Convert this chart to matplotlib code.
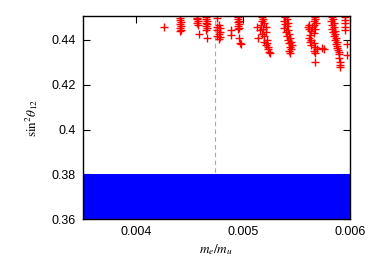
import matplotlib
matplotlib.use('Agg')
import matplotlib.pyplot as plt

plt.rcParams['font.family'] = 'Liberation Sans'
plt.rcParams['mathtext.fontset'] = 'stix'

# scan points (m_e/m_u, sin^2 theta_12)
me_mu = [
    0.00426,
    0.00441, 0.00441, 0.00442, 0.00441, 0.00442, 0.00441, 0.00442, 0.00441,
    0.00457, 0.00457, 0.00458, 0.00457, 0.00458, 0.00459,
    0.00465, 0.00465, 0.00466, 0.00465, 0.00466, 0.00465, 0.00466, 0.00465, 0.00466,
    0.00476, 0.00477, 0.00476, 0.00478, 0.00476, 0.00478, 0.00477, 0.00476, 0.00478, 0.00477,
    0.00489, 0.00489,
    0.00495, 0.00495, 0.00496, 0.00495, 0.00496, 0.00495, 0.00496, 0.00495, 0.00496, 0.00497, 0.00498,
    0.00518, 0.00519, 0.00518, 0.00520, 0.00517, 0.00521, 0.00513, 0.00519, 0.00516, 0.00521,
    0.00518, 0.00514, 0.00520, 0.00522, 0.00520, 0.00522, 0.00521, 0.00523, 0.00523, 0.00524, 0.00525,
    0.00539, 0.00541, 0.00538, 0.00542, 0.00539, 0.00541, 0.00538, 0.00542, 0.00540, 0.00543,
    0.00541, 0.00544, 0.00542, 0.00545, 0.00543, 0.00546, 0.00544, 0.00545, 0.00543, 0.00544,
    0.00567, 0.00567, 0.00566, 0.00568, 0.00566, 0.00562, 0.00561, 0.00565, 0.00562, 0.00567,
    0.00564, 0.00566, 0.00563, 0.00562, 0.00564, 0.00563, 0.00566, 0.00564, 0.00567, 0.00569,
    0.00566, 0.00567, 0.00567, 0.00574, 0.00576,
    0.00583, 0.00584, 0.00582, 0.00585, 0.00583, 0.00585, 0.00583, 0.00586, 0.00584, 0.00586,
    0.00585, 0.00587, 0.00586, 0.00588, 0.00587, 0.00588, 0.00588, 0.00589, 0.00590, 0.00590,
    0.00590, 0.00591, 0.00591, 0.00591,
    0.00595, 0.00595, 0.00595, 0.00595, 0.00595, 0.00597, 0.00597,
]
sin2_t12 = [
    0.4459,
    0.4500, 0.4490, 0.4481, 0.4472, 0.4463, 0.4454, 0.4446, 0.4441,
    0.4500, 0.4492, 0.4484, 0.4476, 0.4468, 0.4428,
    0.4503, 0.4495, 0.4487, 0.4478, 0.4470, 0.4462, 0.4454, 0.4446, 0.4410,
    0.4500, 0.4468, 0.4460, 0.4452, 0.4444, 0.4436, 0.4428, 0.4420, 0.4412, 0.4405,
    0.4446, 0.4423,
    0.4503, 0.4495, 0.4487, 0.4479, 0.4471, 0.4463, 0.4455, 0.4447, 0.4410, 0.4388, 0.4380,
    0.4503, 0.4494, 0.4485, 0.4476, 0.4468, 0.4460, 0.4459, 0.4451, 0.4443, 0.4435,
    0.4427, 0.4410, 0.4418, 0.4402, 0.4393, 0.4385, 0.4376, 0.4367, 0.4358, 0.4348, 0.4340,
    0.4503, 0.4495, 0.4487, 0.4478, 0.4470, 0.4461, 0.4453, 0.4444, 0.4436, 0.4427,
    0.4419, 0.4410, 0.4402, 0.4393, 0.4385, 0.4376, 0.4368, 0.4359, 0.4350, 0.4342,
    0.4503, 0.4494, 0.4485, 0.4476, 0.4468, 0.4466, 0.4458, 0.4456, 0.4449, 0.4447,
    0.4440, 0.4432, 0.4424, 0.4410, 0.4402, 0.4393, 0.4385, 0.4376, 0.4368, 0.4361,
    0.4352, 0.4340, 0.4302, 0.4363, 0.4360,
    0.4503, 0.4494, 0.4486, 0.4477, 0.4468, 0.4460, 0.4451, 0.4442, 0.4434, 0.4425,
    0.4416, 0.4408, 0.4399, 0.4390, 0.4381, 0.4373, 0.4364, 0.4355, 0.4346, 0.4337,
    0.4320, 0.4302, 0.4290, 0.4281,
    0.4503, 0.4490, 0.4475, 0.4460, 0.4446, 0.4383, 0.4334,
]

band_lo, band_hi = 0.36, 0.38     # filled band
x_mark = 0.00474                  # dashed vertical line

x_ticks = [0.004, 0.005, 0.006]
x_labels = ['0.004', '0.005', '0.006']
y_ticks = [0.36, 0.38, 0.40, 0.42, 0.44]
y_labels = ['0.36', '0.38', '0.4', '0.42', '0.44']

fig = plt.figure(figsize=(3.75, 2.63), dpi=100)
ax = fig.add_axes([0.221, 0.167, 0.712, 0.772])

ax.axvline(x_mark, color='#a8a8a8', lw=0.8, ls=(0, (4, 3)), zorder=1)
ax.fill_between([0.0035, 0.006], band_lo, band_hi, color='#0000ff', lw=0, zorder=2)
ax.plot(me_mu, sin2_t12, ls='none', marker='+', ms=6, mew=1.0, color='red', zorder=3)

ax.set_xlim(0.0035, 0.006)
ax.set_ylim(0.36, 0.4507)
ax.set_xticks(x_ticks)
ax.set_xticklabels(x_labels)
ax.set_yticks(y_ticks)
ax.set_yticklabels(y_labels)
ax.tick_params(direction='in', length=5, width=0.8, labelsize=9,
               top=True, right=True, pad=5)
ax.set_xticks([], minor=True)
ax.set_yticks([], minor=True)
for s in ax.spines.values():
    s.set_linewidth(1.0)
    s.set_zorder(4)

ax.set_xlabel(r'$m_e/m_u$', fontsize=9.5, labelpad=3)
ax.set_ylabel(r'$\mathrm{sin}^2\theta_{12}$', fontsize=9.5, labelpad=8)

plt.savefig('out.png', dpi=100)
